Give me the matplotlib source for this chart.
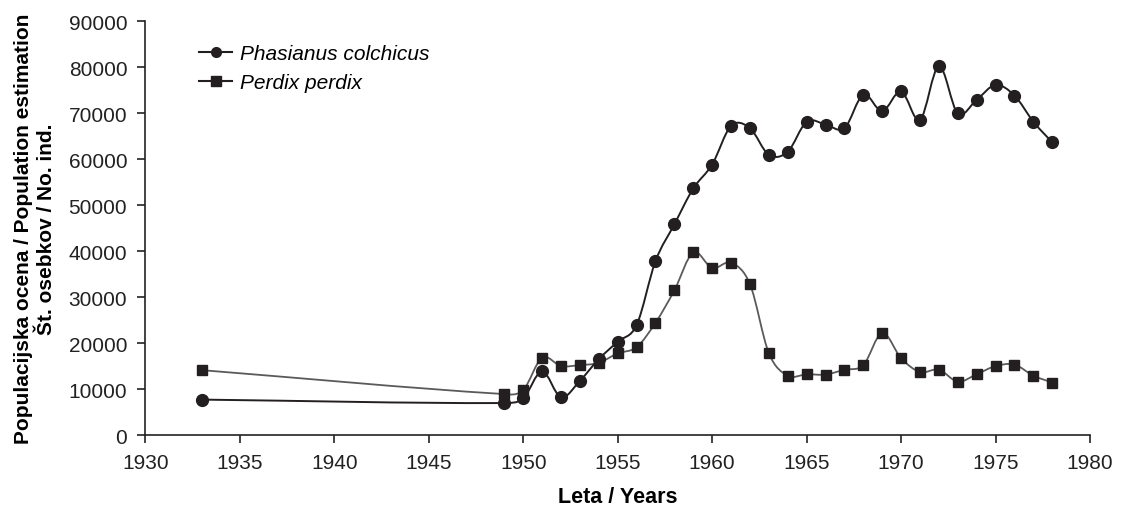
import numpy as np
import matplotlib
matplotlib.use("Agg")
from matplotlib import pyplot as plt
from matplotlib.path import Path
from matplotlib.patches import PathPatch
from matplotlib.lines import Line2D

plt.rcParams['font.family'] = ['Liberation Sans', 'DejaVu Sans']

# values
years = [1933, 1949] + list(range(1950, 1979))
phasianus = [7700, 6950, 7970, 13850, 8190, 11800, 16500, 20300, 23900, 37800,
             45800, 53600, 58800, 67200, 66700, 60900, 61600, 68100, 67500,
             66700, 74000, 70400, 74700, 68500, 80200, 69900, 72900, 76100,
             73800, 68100, 63600]
perdix = [14100, 8900, 9800, 16800, 15000, 15200, 15700, 17750, 19100, 24400,
          31450, 39700, 36300, 37450, 32800, 17800, 12900, 13200, 13150, 14200,
          15200, 22200, 16700, 13700, 14200, 11600, 13200, 15000, 15300, 12900,
          11400]
x_ticks = [1930, 1935, 1940, 1945, 1950, 1955, 1960, 1965, 1970, 1975, 1980]
y_ticks = [0, 10000, 20000, 30000, 40000, 50000, 60000, 70000, 80000, 90000]

DARK = '#231f20'
GREY = '#5a5a5a'


def smooth_path(x, y):
    # cubic Hermite (as bezier) through the points, like a smoothed spreadsheet line
    x = np.asarray(x, float)
    y = np.asarray(y, float)
    n = len(x)
    m = np.zeros(n)
    m[0] = (y[1] - y[0]) / (x[1] - x[0])
    m[-1] = (y[-1] - y[-2]) / (x[-1] - x[-2])
    for i in range(1, n - 1):
        m[i] = (y[i + 1] - y[i - 1]) / (x[i + 1] - x[i - 1])
    verts = [(x[0], y[0])]
    codes = [Path.MOVETO]
    for i in range(n - 1):
        h = x[i + 1] - x[i]
        verts += [(x[i] + h / 3, y[i] + m[i] * h / 3),
                  (x[i + 1] - h / 3, y[i + 1] - m[i + 1] * h / 3),
                  (x[i + 1], y[i + 1])]
        codes += [Path.CURVE4] * 3
    return Path(verts, codes)


fig = plt.figure(figsize=(11.24, 5.06), dpi=100)
ax = fig.add_axes([0.1293, 0.1383, 0.8405, 0.8182])

ax.add_patch(PathPatch(smooth_path(years, perdix), fill=False, edgecolor=GREY,
                       lw=1.3, transform=ax.transData, zorder=2))
ax.add_patch(PathPatch(smooth_path(years, phasianus), fill=False, edgecolor=DARK,
                       lw=1.4, transform=ax.transData, zorder=3))
ax.plot(years, perdix, ls='none', marker='s', ms=7.5, color=DARK, zorder=4)
ax.plot(years, phasianus, ls='none', marker='o', ms=8.5, color=DARK, zorder=5)

ax.set_xlim(1930, 1980)
ax.set_ylim(0, 90000)
ax.set_xticks(x_ticks)
ax.set_yticks(y_ticks)
ax.tick_params(direction='out', length=6, width=1.2, labelsize=15,
               colors='#222222', pad=7)
for s in ['top', 'right']:
    ax.spines[s].set_visible(False)
for s in ['left', 'bottom']:
    ax.spines[s].set_linewidth(1.2)
    ax.spines[s].set_color('#222222')

ax.set_xlabel('Leta / Years', fontsize=15.5, fontweight='bold', labelpad=10)
ax.set_ylabel('Populacijska ocena / Population estimation\nŠt. osebkov / No. ind.',
              fontsize=15, fontweight='bold', linespacing=1.3, labelpad=9,
              multialignment='center')

handles = [Line2D([], [], color=DARK, lw=1.5, marker='o', ms=7),
           Line2D([], [], color=DARK, lw=1.5, marker='s', ms=6.5)]
ax.legend(handles, ['Phasianus colchicus', 'Perdix perdix'], loc='upper left',
          bbox_to_anchor=(0.037, 0.99), frameon=False, handlelength=1.6,
          handletextpad=0.35, labelspacing=0.5,
          prop={'style': 'italic', 'size': 15})

fig.savefig('out.png', dpi=100, facecolor='white')
